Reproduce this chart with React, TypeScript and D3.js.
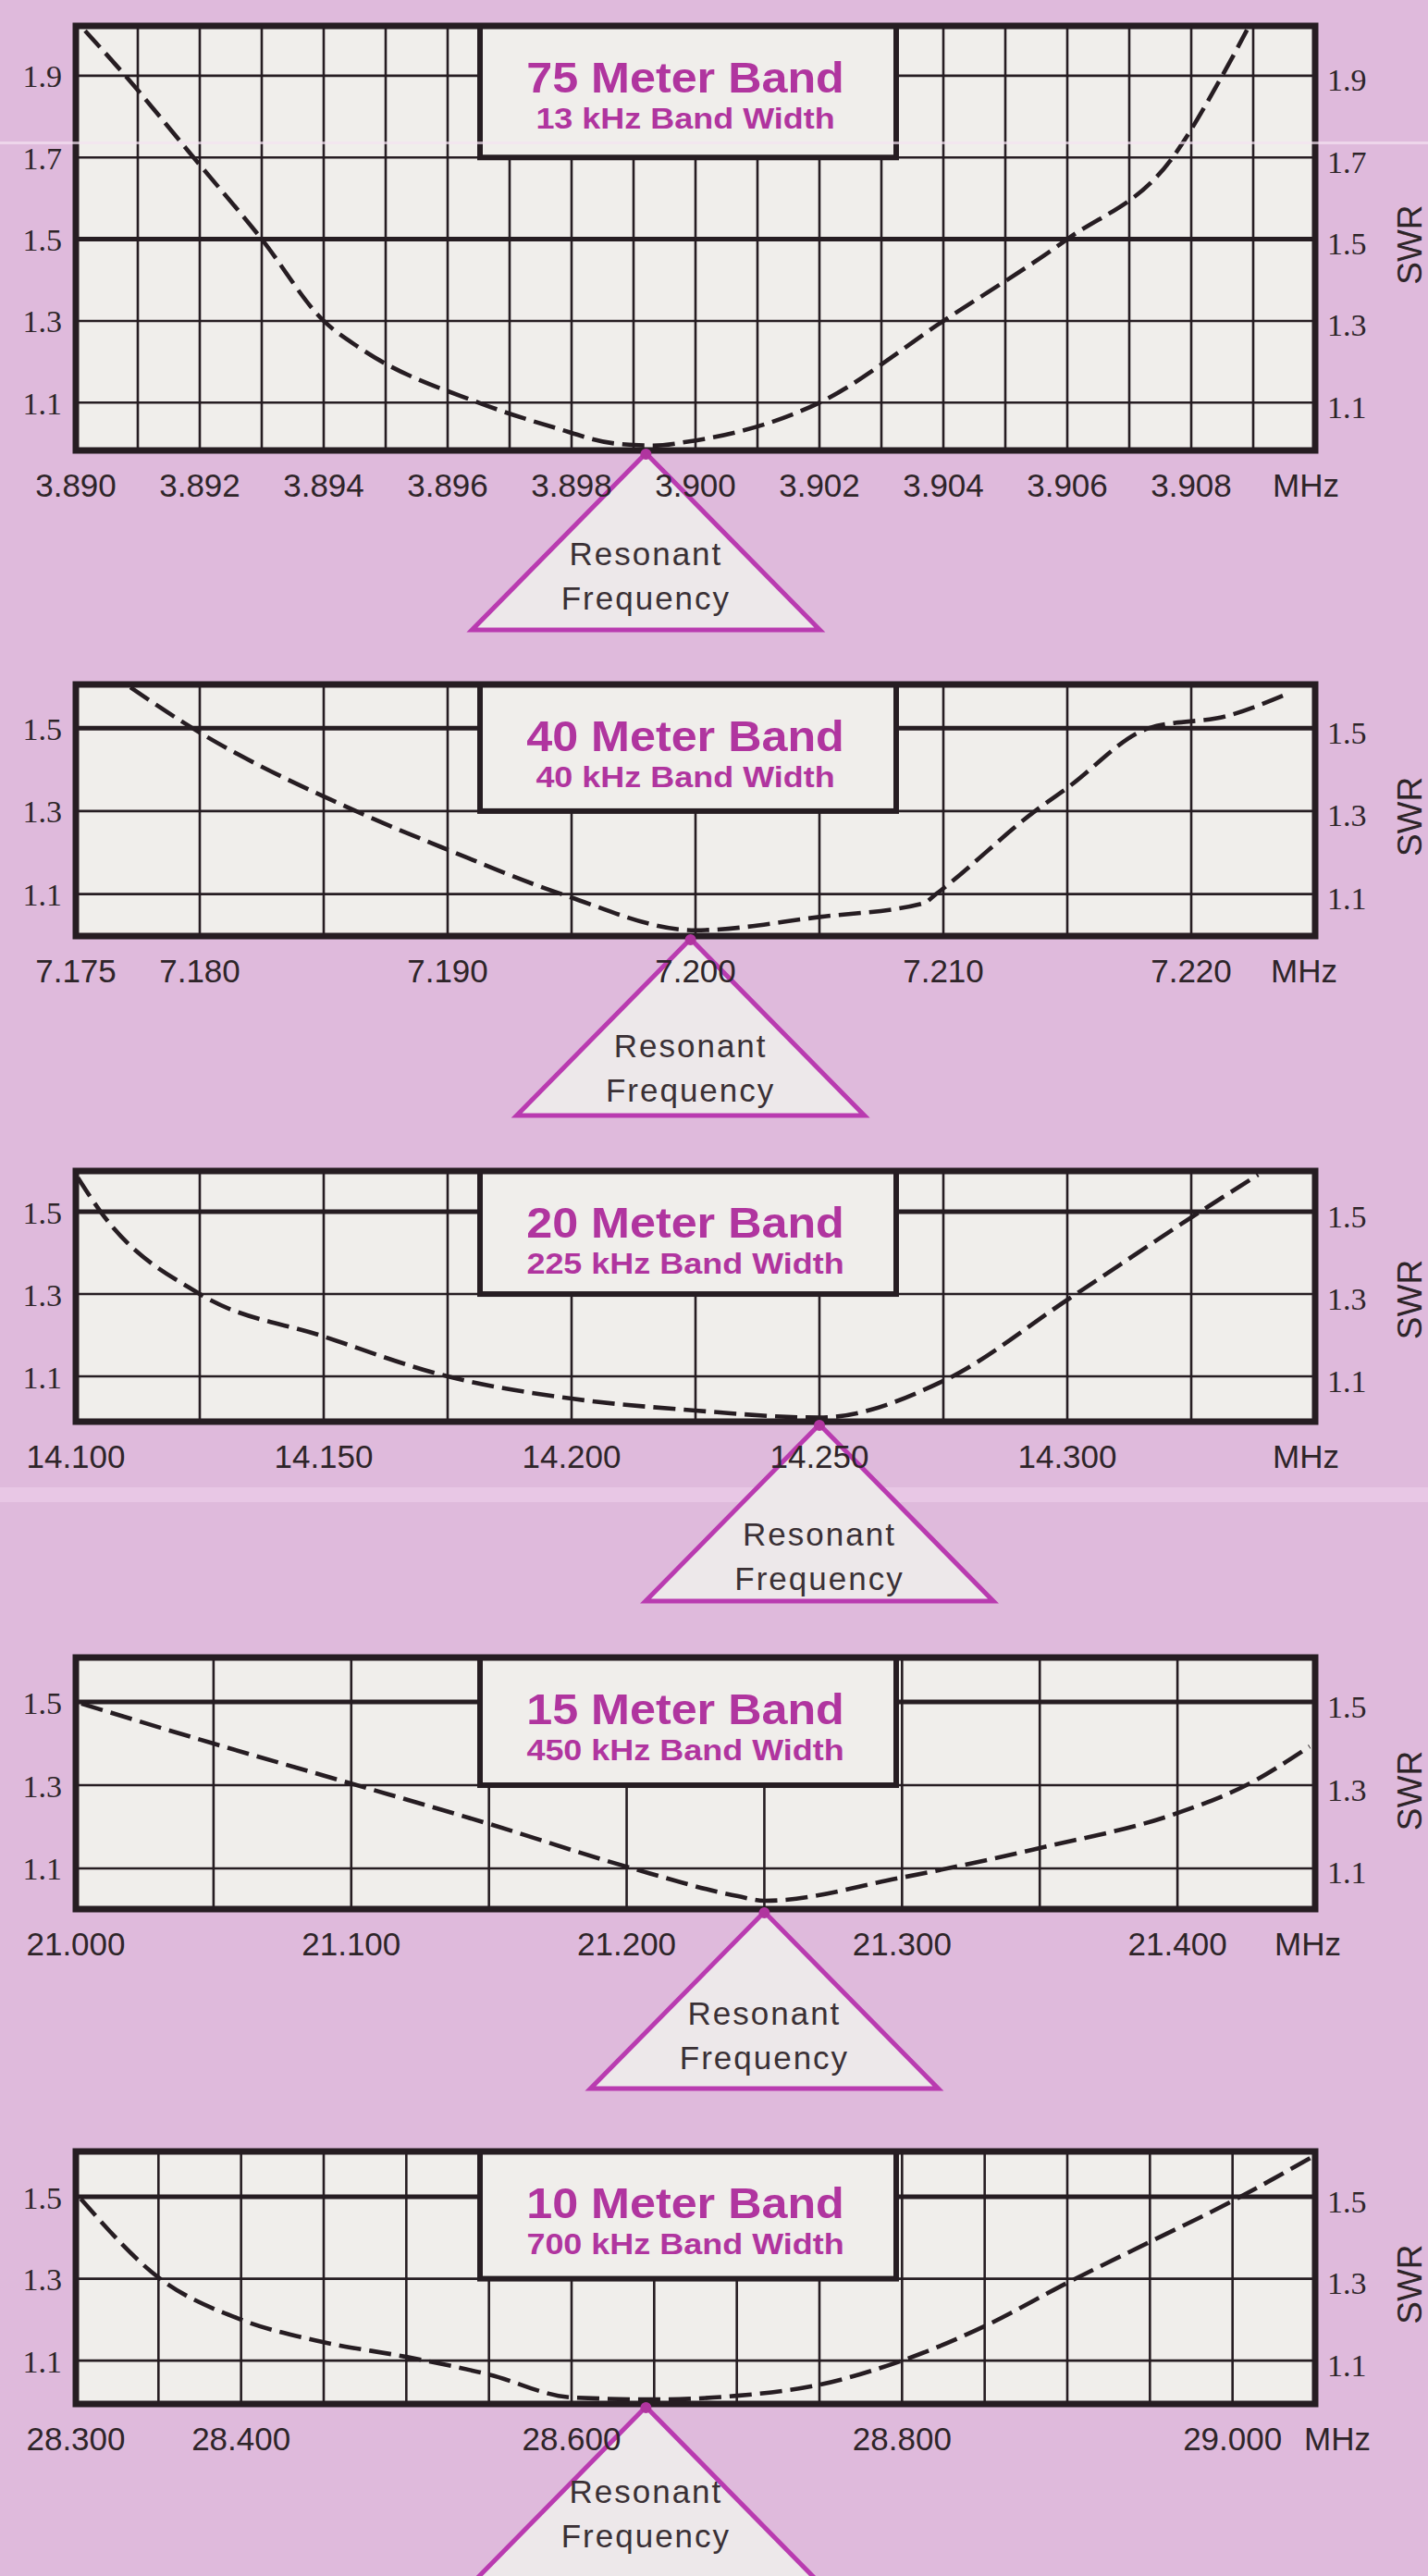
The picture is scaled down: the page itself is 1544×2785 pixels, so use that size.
import React from 'react';
import * as d3 from 'd3';

// ---------------- data ----------------
const bandTitles = ['75 Meter Band', '40 Meter Band', '20 Meter Band', '15 Meter Band', '10 Meter Band'];
const bandWidthLabels = ['13 kHz Band Width', '40 kHz Band Width', '225 kHz Band Width', '450 kHz Band Width', '700 kHz Band Width'];

const freqDomains: [number, number][] = [
  [3.89, 3.91],
  [7.175, 7.225],
  [14.1, 14.35],
  [21.0, 21.45],
  [28.3, 29.05],
];
const gridStepsMHz = [0.001, 0.005, 0.025, 0.05, 0.05];

const freqTicks75 = [3.89, 3.892, 3.894, 3.896, 3.898, 3.9, 3.902, 3.904, 3.906, 3.908];
const freqTicks40 = [7.175, 7.18, 7.19, 7.2, 7.21, 7.22];
const freqTicks20 = [14.1, 14.15, 14.2, 14.25, 14.3];
const freqTicks15 = [21.0, 21.1, 21.2, 21.3, 21.4];
const freqTicks10 = [28.3, 28.4, 28.6, 28.8, 29.0];
const freqTickValues = [freqTicks75, freqTicks40, freqTicks20, freqTicks15, freqTicks10];

const swrDomains: [number, number][] = [
  [0.983, 2.022],
  [0.999, 1.605],
  [0.99, 1.599],
  [1.002, 1.607],
  [0.994, 1.611],
];
const swrTicksBig = [1.1, 1.3, 1.5, 1.7, 1.9];
const swrTicksSmall = [1.1, 1.3, 1.5];
const swrTickValues = [swrTicksBig, swrTicksSmall, swrTicksSmall, swrTicksSmall, swrTicksSmall];
const boxBottomSWR = [1.7, 1.3, 1.3, 1.3, 1.3];

const resonantMHz = [3.8992, 7.1998, 14.25, 21.25, 28.645];

// [MHz, SWR]
const swr75: [number, number][] = [
  [3.89015, 2.01], [3.8908, 1.9], [3.8919, 1.7], [3.893, 1.5], [3.894, 1.3], [3.8946, 1.232],
  [3.8965, 1.1], [3.8977, 1.04], [3.8987, 1.0], [3.8993, 0.995], [3.8999, 1.005],
  [3.902, 1.1], [3.904, 1.3], [3.906, 1.5], [3.9077, 1.7], [3.9085, 1.9], [3.9089, 2.012],
];
const swr40: [number, number][] = [
  [7.1772, 1.598], [7.1797, 1.5], [7.1863, 1.3], [7.19, 1.207], [7.1946, 1.1], [7.2, 1.013],
  [7.205, 1.045], [7.2092, 1.078], [7.2097, 1.1], [7.2137, 1.3], [7.215, 1.356], [7.2183, 1.5],
  [7.2215, 1.53], [7.2239, 1.583],
];
const swr20: [number, number][] = [
  [14.1004, 1.583], [14.105, 1.5], [14.125, 1.3], [14.15, 1.197], [14.175, 1.1], [14.2, 1.046],
  [14.225, 1.017], [14.25, 1.0], [14.275, 1.089], [14.3005, 1.29], [14.3255, 1.49], [14.3385, 1.59],
];
const swr15: [number, number][] = [
  [21.002, 1.496], [21.05, 1.4], [21.1, 1.304], [21.15, 1.207], [21.2, 1.104], [21.2405, 1.033],
  [21.25, 1.022], [21.3, 1.078], [21.35, 1.149], [21.4, 1.233], [21.425, 1.3], [21.448, 1.393],
];
const swr10: [number, number][] = [
  [28.303, 1.495], [28.35, 1.303], [28.4, 1.2], [28.45, 1.145], [28.5, 1.109], [28.55, 1.066],
  [28.6, 1.01], [28.65, 1.005], [28.7, 1.014], [28.75, 1.041], [28.8, 1.1], [28.85, 1.184],
  [28.9, 1.29], [28.95, 1.39], [29.0, 1.49], [29.047, 1.595],
];
const swrCurves = [swr75, swr40, swr20, swr15, swr10];

// ---------------- layout & style ----------------
const WIDTH = 1544;
const HEIGHT = 2785;
const PLOT_LEFT = 82;
const PLOT_RIGHT = 1422;
const panelTops = [28, 740, 1266, 1792, 2326];
const panelBottoms = [487, 1012, 1537, 2064, 2599];
const BOX_LEFT = 519;
const BOX_RIGHT = 969;
const unitX = [1412, 1410, 1412, 1414, 1446];
const triTextOffset = [121, 128, 131, 122, 104];

const BG = '#dfbadc';
const PAPER = '#f0eeeb';
const INK = '#261d22';
const TEXT = '#2e2529';
const MAGENTA = '#b0359f';
const TRI = '#b93bb0';
const FONT = "'Liberation Sans', Arial, Helvetica, sans-serif";
const SERIF = "'Liberation Serif', 'Times New Roman', serif";

const fmt = d3.format('.3f');

function Panel({ i }: { i: number }) {
  const top = panelTops[i];
  const bottom = panelBottoms[i];
  const x = d3.scaleLinear().domain(freqDomains[i]).range([PLOT_LEFT, PLOT_RIGHT]);
  const y = d3.scaleLinear().domain(swrDomains[i]).range([bottom, top]);
  const [d0, d1] = freqDomains[i];
  const n = Math.round((d1 - d0) / gridStepsMHz[i]);
  const vgrid = d3.range(1, n).map((k) => d0 + k * gridStepsMHz[i]);
  const line = d3
    .line<[number, number]>()
    .x((d) => x(d[0]))
    .y((d) => y(d[1]))
    .curve(d3.curveMonotoneX);
  const boxBottom = y(boxBottomSWR[i]);
  const boxCx = (BOX_LEFT + BOX_RIGHT) / 2 - 3;
  const ax = x(resonantMHz[i]);
  const ay = bottom + 3;
  const triH = 191;
  const triHalf = 188;
  const tickY = bottom + 50;
  const swrMid = y(d3.mean(swrTickValues[i]) as number);
  const clipId = `clip-${i}`;
  const ticks = freqTickValues[i];
  const tText = ay + triTextOffset[i];

  return (
    <g>
      <defs>
        <clipPath id={clipId}>
          <rect x={PLOT_LEFT} y={top} width={PLOT_RIGHT - PLOT_LEFT} height={bottom - top} />
        </clipPath>
      </defs>
      <rect x={PLOT_LEFT} y={top} width={PLOT_RIGHT - PLOT_LEFT} height={bottom - top} fill={PAPER} />
      {swrTickValues[i].map((v) => (
        <line
          key={`h${v}`}
          x1={PLOT_LEFT}
          x2={PLOT_RIGHT}
          y1={y(v)}
          y2={y(v)}
          stroke={INK}
          strokeWidth={Math.abs(v - 1.5) < 1e-6 ? 5 : 2.6}
        />
      ))}
      {vgrid.map((v) => (
        <line key={`v${v}`} x1={x(v)} x2={x(v)} y1={top} y2={bottom} stroke={INK} strokeWidth={2.6} />
      ))}
      <rect
        x={BOX_LEFT}
        y={top}
        width={BOX_RIGHT - BOX_LEFT}
        height={boxBottom - top}
        fill={PAPER}
        stroke={INK}
        strokeWidth={6}
      />
      <text
        transform={`translate(${boxCx},${top + 72}) scale(1.07,1)`}
        textAnchor="middle"
        fontFamily={FONT}
        fontWeight={700}
        fontSize={47}
        fill={MAGENTA}
      >
        {bandTitles[i]}
      </text>
      <text
        transform={`translate(${boxCx},${top + 111}) scale(1.16,1)`}
        textAnchor="middle"
        fontFamily={FONT}
        fontWeight={700}
        fontSize={31}
        fill={MAGENTA}
      >
        {bandWidthLabels[i]}
      </text>
      <path
        d={line(swrCurves[i]) || ''}
        fill="none"
        stroke={INK}
        strokeWidth={4.6}
        strokeDasharray="24 9"
        clipPath={`url(#${clipId})`}
      />
      <rect
        x={PLOT_LEFT}
        y={top}
        width={PLOT_RIGHT - PLOT_LEFT}
        height={bottom - top}
        fill="none"
        stroke={INK}
        strokeWidth={7}
      />
      {swrTickValues[i].map((v) => (
        <g key={`yl${v}`}>
          <text
            x={PLOT_LEFT - 15}
            y={y(v) + 1}
            textAnchor="end"
            dominantBaseline="central"
            fontFamily={SERIF}
            fontSize={34}
            fill={TEXT}
          >
            {v.toFixed(1)}
          </text>
          <text
            x={PLOT_RIGHT + 13}
            y={y(v) + 5}
            textAnchor="start"
            dominantBaseline="central"
            fontFamily={SERIF}
            fontSize={34}
            fill={TEXT}
          >
            {v.toFixed(1)}
          </text>
        </g>
      ))}
      <text
        transform={`translate(1524,${swrMid + 6}) rotate(-90)`}
        textAnchor="middle"
        dominantBaseline="central"
        fontFamily={FONT}
        fontSize={37}
        fill={TEXT}
      >
        SWR
      </text>
      <path
        d={`M${ax},${ay} L${ax - triHalf},${ay + triH} L${ax + triHalf},${ay + triH} Z`}
        fill="#ede8ea"
        stroke={TRI}
        strokeWidth={5}
        strokeLinejoin="miter"
      />
      <circle cx={ax} cy={ay + 1} r={6} fill={MAGENTA} />
      {ticks.map((v) => (
        <text
          key={`xl${v}`}
          x={x(v)}
          y={tickY}
          textAnchor="middle"
          fontFamily={FONT}
          fontSize={35}
          fill={TEXT}
        >
          {fmt(v)}
        </text>
      ))}
      <text x={unitX[i]} y={tickY} textAnchor="middle" fontFamily={FONT} fontSize={35} fill={TEXT}>
        MHz
      </text>
      <text
        x={ax}
        y={tText}
        textAnchor="middle"
        fontFamily={FONT}
        fontSize={35}
        letterSpacing={2}
        fill="#3a3035"
      >
        Resonant
      </text>
      <text
        x={ax}
        y={tText + 48}
        textAnchor="middle"
        fontFamily={FONT}
        fontSize={35}
        letterSpacing={2}
        fill="#3a3035"
      >
        Frequency
      </text>
    </g>
  );
}

export default function App() {
  return (
    <svg
      width={WIDTH}
      height={HEIGHT}
      viewBox={`0 0 ${WIDTH} ${HEIGHT}`}
      style={{ position: 'absolute', left: 0, top: 0, display: 'block' }}
    >
      <rect x={0} y={0} width={WIDTH} height={HEIGHT} fill={BG} />
      <rect x={0} y={1608} width={WIDTH} height={16} fill="#eacae7" opacity={0.8} />
      {bandTitles.map((_, i) => (
        <Panel key={i} i={i} />
      ))}
      <rect x={0} y={153} width={WIDTH} height={3} fill="#f4e2f1" opacity={0.7} />
    </svg>
  );
}
